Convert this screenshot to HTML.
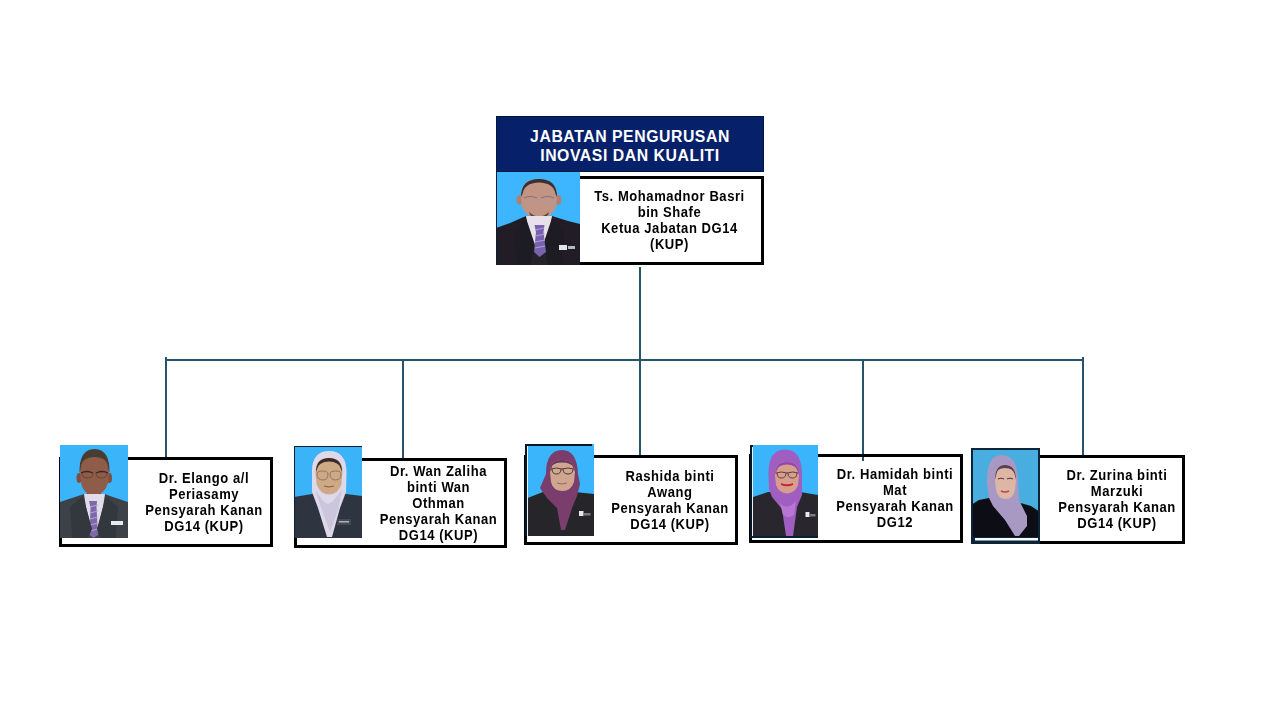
<!DOCTYPE html>
<html><head><meta charset="utf-8">
<style>
html,body{margin:0;padding:0;background:#fff;}
body{width:1280px;height:720px;position:relative;overflow:hidden;font-family:"Liberation Sans",sans-serif;}
.a{position:absolute;}
.ln{position:absolute;background:#27536B;}
.box{position:absolute;border:3px solid #000;background:#fff;box-sizing:border-box;}
.ph{position:absolute;display:block;}
.t{position:absolute;font-weight:bold;font-size:14px;line-height:16px;color:#000;text-align:center;white-space:nowrap;letter-spacing:0.6px;transform:scaleX(0.93);transform-origin:50% 0;}
.hd{position:absolute;left:496px;top:116px;width:268px;height:56px;background:#06206A;box-sizing:border-box;border:1px solid #02183A;}
.hdt{position:absolute;left:496px;top:127px;width:268px;text-align:center;color:#fff;font-weight:bold;font-size:15.8px;line-height:19px;white-space:nowrap;letter-spacing:0.55px;}
</style></head><body>

<!-- connectors -->
<div class="ln" style="left:639px;top:267px;width:2px;height:188px;"></div>
<div class="ln" style="left:165px;top:359px;width:919px;height:2px;"></div>
<div class="ln" style="left:165px;top:357px;width:2px;height:100px;"></div>
<div class="ln" style="left:402px;top:359px;width:2px;height:99px;"></div>
<div class="ln" style="left:862px;top:359px;width:2px;height:102px;"></div>
<div class="ln" style="left:1082px;top:357px;width:2px;height:98px;"></div>

<!-- top box -->
<div class="hd"></div>
<div class="hdt">JABATAN PENGURUSAN<br>INOVASI DAN KUALITI</div>
<div class="box" style="left:496px;top:176px;width:268px;height:89px;"></div>
<div class="t" style="left:578.5px;top:188px;width:181px;">Ts. Mohamadnor Basri<br>bin Shafe<br>Ketua Jabatan DG14<br>(KUP)</div>

<!-- bottom boxes -->
<div class="box" style="left:59px;top:457px;width:214px;height:90px;"></div>
<div class="t" style="left:134px;top:470px;width:140px;">Dr. Elango a/l<br>Periasamy<br>Pensyarah Kanan<br>DG14 (KUP)</div>

<div class="box" style="left:294px;top:458px;width:213px;height:90px;"></div>
<div class="t" style="left:368px;top:463px;width:141px;">Dr. Wan Zaliha<br>binti Wan<br>Othman<br>Pensyarah Kanan<br>DG14 (KUP)</div>

<div class="box" style="left:524px;top:455px;width:214px;height:90px;"></div>
<div class="t" style="left:600px;top:468px;width:140px;">Rashida binti<br>Awang<br>Pensyarah Kanan<br>DG14 (KUP)</div>

<div class="box" style="left:749px;top:454px;width:214px;height:89px;"></div>
<div class="t" style="left:825px;top:466px;width:140px;">Dr. Hamidah binti<br>Mat<br>Pensyarah Kanan<br>DG12</div>

<div class="box" style="left:972px;top:455px;width:213px;height:89px;"></div>
<div class="t" style="left:1047px;top:467px;width:140px;">Dr. Zurina binti<br>Marzuki<br>Pensyarah Kanan<br>DG14 (KUP)</div>

<div class="ln" style="left:862px;top:457px;width:2px;height:4px;"></div>

<!-- photos -->
<svg class="ph" style="left:496px;top:172px" width="84" height="93" viewBox="0 0 84 93">
<defs><filter id="b0" x="-5%" y="-5%" width="110%" height="110%"><feGaussianBlur stdDeviation="0.45"/></filter><clipPath id="c0"><rect x="1" y="0" width="83" height="93"/></clipPath></defs>
<rect width="84" height="93" fill="#3DB5FF"/>
<g clip-path="url(#c0)"><g filter="url(#b0)">
<ellipse cx="23.5" cy="28" rx="3" ry="5" fill="#B08070"/>
<ellipse cx="62.5" cy="28" rx="3" ry="5" fill="#B08070"/>
<rect x="34" y="36" width="18" height="12" fill="#9E7060"/>
<path d="M25,25 Q25,7 43,7 Q61,7 61,25 L60,34 Q57,45 43,46.5 Q29,45 26,34Z" fill="#C29484"/>
<path d="M25,25 Q25,7 43,7 Q61,7 61,25 L59.5,22 Q58,11 43,10.5 Q28,11 26.5,22Z" fill="#3C2E30"/>
<path d="M28,26 Q34,23 41,26 M45,26 Q52,23 58,26" stroke="#7E6E86" stroke-width="1.2" fill="none"/>
<path d="M29,26 Q29,31 35,31 Q41,31 41,26 M45,26 Q45,31 51,31 Q57,31 57,26" stroke="#A898B0" stroke-width="0.8" fill="none"/>
<path d="M33,40 Q43,49 53,40 Q52,46 43,47 Q34,46 33,40Z" fill="#5A4038"/>
<path d="M0,56 L14,51 L30,44 L56,44 L72,49 L84,52 L84,93 L0,93Z" fill="#221F26"/>
<path d="M30,44 L56,44 L54,58 L49,74 L37,74 L32,58Z" fill="#E8E0EA"/>
<path d="M30,46 L42,82 L36,93 L22,93 L18,60Z" fill="#1B1A20"/>
<path d="M56,46 L44,82 L50,93 L66,93 L68,60Z" fill="#1B1A20"/>
<path d="M37,78 L49,78 L52,93 L34,93Z" fill="#25222A"/>
<path d="M38.5,53 L48.5,53 L47.5,60 L50,80 L43.5,85 L38,80 L40,60Z" fill="#7862AE"/>
<path d="M39,58 L48,56 M39,64 L49,62 M39,70 L49,68 M39,76 L49,74" stroke="#B4A8D8" stroke-width="0.9"/>
<rect x="63" y="73" width="8" height="5" fill="#E4E4EC"/>
<rect x="72" y="74" width="7" height="3" fill="#B8B8C4"/>
</g></g>
<rect x="0" y="0" width="1" height="93" fill="#0A2030"/>
</svg>

<svg class="ph" style="left:60px;top:445px" width="68" height="93" viewBox="0 0 68 93">
<defs><filter id="b1" x="-5%" y="-5%" width="110%" height="110%"><feGaussianBlur stdDeviation="0.45"/></filter><clipPath id="c1"><rect width="68" height="93"/></clipPath></defs>
<rect width="68" height="93" fill="#3CB4FA"/>
<g clip-path="url(#c1)"><g filter="url(#b1)">
<ellipse cx="19" cy="33" rx="2.5" ry="5" fill="#7E5040"/>
<ellipse cx="49.5" cy="33" rx="2.5" ry="5" fill="#7E5040"/>
<rect x="27" y="40" width="14" height="11" fill="#7A4C3C"/>
<path d="M20,26 Q20,5 34.5,5 Q49,5 49,26 L48,38 Q45,49 34,50 Q23,49 21,38Z" fill="#8E5C48"/>
<path d="M19.5,28 Q19,4 34.5,4 Q50,4 49.5,28 L48,22 Q47,12 34.5,12 Q22,12 21,22Z" fill="#463C30"/>
<path d="M21,28 Q27,25 33,28 M36,28 Q42,25 48,28" stroke="#3A2820" stroke-width="1.3" fill="none"/>
<path d="M22,28 Q22,33 27.5,33 Q33,33 33,28 M36,28 Q36,33 41.5,33 Q47,33 47,28" stroke="#5A4038" stroke-width="0.8" fill="none"/>
<path d="M0,57 L18,51 L24,49 L45,49 L50,51 L68,57 L68,93 L0,93Z" fill="#3E434A"/>
<path d="M24,49 L45,49 L43,62 L38,82 L31,82 L26,62Z" fill="#E2DCEA"/>
<path d="M29,56 L37,56 L36.5,62 L38,90 L33.5,93 L29.5,90 L30.5,62Z" fill="#7E68AA"/>
<path d="M30,62 L38,60 M30,68 L38,66 M30,74 L38,72 M30,80 L38,78 M30,86 L38,84" stroke="#B8ACD8" stroke-width="0.9"/>
<path d="M23,51 L32,84 L28,93 L12,93 L10,62Z" fill="#33383E"/>
<path d="M46,51 L37,84 L40,93 L56,93 L58,62Z" fill="#33383E"/>
<rect x="51" y="76" width="12" height="4" fill="#E8E8EE"/>
</g></g>
</svg>

<svg class="ph" style="left:294px;top:446px" width="68" height="92" viewBox="0 0 68 92">
<defs><filter id="b2" x="-5%" y="-5%" width="110%" height="110%"><feGaussianBlur stdDeviation="0.45"/></filter><clipPath id="c2"><rect width="68" height="92"/></clipPath></defs>
<rect width="68" height="92" fill="#3AB3F8"/>
<g clip-path="url(#c2)"><g filter="url(#b2)">
<path d="M0,51 L18,48 L52,48 L68,50 L68,92 L0,92Z" fill="#2E3540"/>
<path d="M18,28 Q17,5 35,5 Q53,5 52.5,28 L52,46 L46,62 L38,91 L33,91 L24,62 L18,46Z" fill="#DDD8EA"/>
<path d="M21,44 L30,56 L34,58 L38,56 L48,44 L44,64 L36,86 L28,64Z" fill="#CCC6DC"/>
<path d="M21.5,26 Q21.5,12 35,12 Q48.5,12 48.5,26 L47.5,38 Q44.5,48 35,48.5 Q25.5,48 22.5,38Z" fill="#CDA986"/>
<path d="M22,26 Q22,12 35,12 Q48,12 48,26 L46.5,22 Q45,16 35,15.5 Q25,16 23.5,22Z" fill="#3A2C26"/>
<path d="M23,28 Q23,34 29,34 Q34,34 34,28 Q34,25 29,25 Q23,25 23,28Z M36,28 Q36,34 41.5,34 Q47,34 47,28 Q47,25 41.5,25 Q36,25 36,28Z" stroke="#8C6E5A" stroke-width="0.9" fill="none"/>
<path d="M30,40 Q35,42 40,40" stroke="#8A5A4A" stroke-width="1" fill="none"/>
<rect x="43" y="73" width="14" height="6" fill="#444A52"/>
<rect x="45" y="75" width="10" height="1.5" fill="#AEB2B8"/>
</g></g>
<rect x="0" y="0" width="68" height="1" fill="#0A2238"/>
<rect x="0" y="0" width="1" height="92" fill="#0A2238"/>
</svg>

<svg class="ph" style="left:525px;top:444px" width="69" height="92" viewBox="0 0 69 92">
<defs><filter id="b3" x="-5%" y="-5%" width="110%" height="110%"><feGaussianBlur stdDeviation="0.45"/></filter><clipPath id="c3"><rect width="69" height="92"/></clipPath></defs>
<rect width="69" height="92" fill="#3AB4FA"/>
<g clip-path="url(#c3)"><g filter="url(#b3)">
<path d="M0,55 L18,48 L50,48 L69,50 L69,92 L0,92Z" fill="#26282B"/>
<path d="M21,30 Q21,6 37,6 Q52,6 53,30 L55,40 L52,52 L47,64 L40,86 L36,86 L32,64 L22,54 L15,44Z" fill="#7A3C6C"/>
<path d="M25,28 Q25,16 37,16 Q50,16 50,28 L49,38 Q46,47 37.5,47 Q28,47 26,38Z" fill="#D0A690"/>
<path d="M25,28 Q25,16 37,16 Q50,16 50,28 L48.5,24 Q47,18.5 37,18.5 Q27,18.5 26.5,24Z" fill="#6A3060"/>
<path d="M26,25 Q31,23 37,25 Q43,23 49,25 M27,25 Q27,30 31.5,30 Q36,30 36,25 M38,25 Q38,30 43,30 Q48,30 48,25" stroke="#4A3A3A" stroke-width="1" fill="none"/>
<path d="M32,39 Q37,41 42,39" stroke="#A06060" stroke-width="1" fill="none"/>
<rect x="54" y="67" width="4.5" height="5" fill="#E8E8EE"/>
<rect x="58.5" y="69" width="7" height="2.5" fill="#7A7A82"/>
</g></g>
<rect x="0" y="0" width="67" height="2" fill="#061828"/>
<rect x="0" y="0" width="2" height="92" fill="#061828"/>
<rect x="2" y="2" width="1" height="90" fill="#E8F4FA"/>
</svg>

<svg class="ph" style="left:750px;top:445px" width="68" height="93" viewBox="0 0 68 93">
<defs><filter id="b4" x="-5%" y="-5%" width="110%" height="110%"><feGaussianBlur stdDeviation="0.45"/></filter><clipPath id="c4"><rect width="68" height="91"/></clipPath></defs>
<rect width="68" height="93" fill="#3AB4FA"/>
<g clip-path="url(#c4)"><g filter="url(#b4)">
<path d="M0,53 L18,47 L50,47 L68,50 L68,93 L0,93Z" fill="#29282E"/>
<path d="M18.5,30 Q18,4.5 35,4.5 Q52,4.5 52,30 L52,50 L47,62 L43,91 L36,91 L32,64 L22,52 L19,44Z" fill="#A05EC0"/>
<path d="M30,58 Q37,66 46,56 L44,70 Q38,74 33,70Z" fill="#B876D4"/>
<path d="M25,30 Q25,17 37,17 Q49,17 49,30 L48,40 Q45,48 37,48.5 Q29,48 26,40Z" fill="#D89E8C"/>
<path d="M25,30 Q25,17 37,17 Q49,17 49,30 L47.5,26 Q46,19.5 37,19.5 Q28,19.5 26.5,26Z" fill="#8E4AAE"/>
<path d="M26,28 Q31,26 37,28 Q43,26 48,28 M27,28 Q27,33 31.5,33 Q36,33 36,28 M38,28 Q38,33 42.5,33 Q47,33 47,28" stroke="#5A4048" stroke-width="1" fill="none"/>
<path d="M31,39 Q37,42 43,39 Q37,41 31,39Z" stroke="#C02838" stroke-width="1.6" fill="none"/>
<rect x="55.5" y="67" width="4" height="5" fill="#E8E8EE"/>
<rect x="59.5" y="69" width="6" height="2.5" fill="#7A7A82"/>
</g></g>
<rect x="0" y="0" width="2" height="93" fill="#061828"/>
<rect x="0" y="0" width="3" height="2" fill="#061828"/>
<rect x="2" y="2" width="1" height="89" fill="#E8F4FA"/>
<rect x="0" y="91" width="68" height="2" fill="#0A2238"/>
</svg>

<svg class="ph" style="left:971px;top:448px" width="69" height="96" viewBox="0 0 69 96">
<defs><filter id="b5" x="-5%" y="-5%" width="110%" height="110%"><feGaussianBlur stdDeviation="0.45"/></filter><clipPath id="c5"><rect x="2" y="2" width="65" height="87"/></clipPath></defs>
<rect width="69" height="96" fill="#0B2438"/>
<rect x="2" y="2" width="65" height="87" fill="#48AEE0"/>
<g clip-path="url(#c5)"><g filter="url(#b5)">
<path d="M0,57 L8,52 L18,50 L46,54 L60,58 L69,64 L69,92 L0,92Z" fill="#0E0D12"/>
<path d="M16,36 Q15,7 31,7 Q47,7 47,34 L48,52 L56,68 L56,78 L48,88 L44,88 L34,72 L22,58 L18,50Z" fill="#A898C4"/>
<path d="M24,32 Q24,17 34,17 Q45,17 45,32 L44,42 Q42,51 34.5,51 Q27,51 25,42Z" fill="#DEB6A6"/>
<path d="M24,32 Q24,17 34,17 Q45,17 45,32 L43.5,26 Q42,20 34,20 Q26,20 25.5,26Z" fill="#5A4050"/>
<path d="M27,31 Q30,29.5 33,31 M36,31 Q39,29.5 42,31" stroke="#5A3A3A" stroke-width="1.1" fill="none"/>
<path d="M30,43 Q34,45 38,43" stroke="#C04050" stroke-width="1.6" fill="none"/>
</g></g>
<rect x="4" y="90" width="63" height="2.5" fill="#FFFFFF"/>
</svg>

</body></html>
